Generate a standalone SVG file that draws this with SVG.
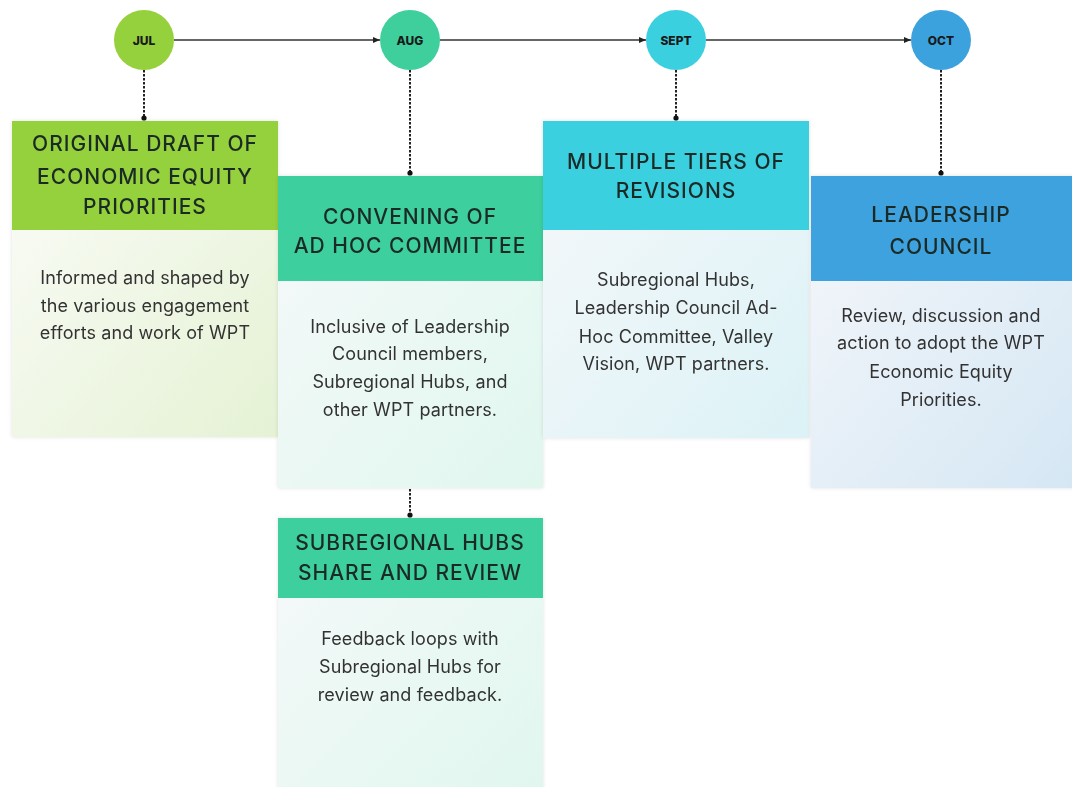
<svg xmlns="http://www.w3.org/2000/svg" width="1072" height="787" viewBox="0 0 1072 787">
<defs>
<linearGradient id="g1" x1="0" y1="0" x2="1" y2="1"><stop offset="0" stop-color="#fbfcf9"/><stop offset="1" stop-color="#e5f2d4"/></linearGradient>
<linearGradient id="g2" x1="0" y1="0" x2="1" y2="1"><stop offset="0" stop-color="#f6f9fa"/><stop offset="1" stop-color="#e0f7ee"/></linearGradient>
<linearGradient id="g4" x1="0" y1="0" x2="1" y2="1"><stop offset="0" stop-color="#f6f8fa"/><stop offset="1" stop-color="#dcf2f6"/></linearGradient>
<linearGradient id="g5" x1="0" y1="0" x2="1" y2="1"><stop offset="0" stop-color="#f5f7fa"/><stop offset="1" stop-color="#d5e7f4"/></linearGradient>
<filter id="sh" x="-5%" y="-5%" width="110%" height="110%"><feGaussianBlur in="SourceAlpha" stdDeviation="2"/><feComponentTransfer><feFuncA type="linear" slope="0.12"/></feComponentTransfer><feMerge><feMergeNode/><feMergeNode in="SourceGraphic"/></feMerge></filter>
<marker id="arr" markerWidth="8" markerHeight="8" refX="7" refY="4" orient="auto" markerUnits="userSpaceOnUse"><path d="M0,1 L7,4 L0,7 Z" fill="#222"/></marker>
<marker id="dot" markerWidth="6" markerHeight="6" refX="3" refY="3" markerUnits="userSpaceOnUse"><circle cx="3" cy="3" r="2.6" fill="#111"/></marker>
</defs>
<style>
.hd{font-family:Inter,"Noto Sans",sans-serif;font-size:21px;font-weight:500;fill:#1d2a28;text-anchor:middle;letter-spacing:1px}
.bd{font-family:Inter,"Noto Sans",sans-serif;font-size:18px;fill:#333;text-anchor:middle;letter-spacing:0.1px}
.mo{font-family:Inter,"Noto Sans",sans-serif;font-size:12px;font-weight:800;fill:#1a1a1a;text-anchor:middle}
.tl{stroke:#333;stroke-width:1.6;fill:none;marker-end:url(#arr)}
.dl{stroke:#222;stroke-width:2;stroke-dasharray:2.5 1.5;fill:none;marker-end:url(#dot)}
</style>
<rect width="1072" height="787" fill="#ffffff"/>
<g id="connectors">
<path class="tl" d="M174,40 H380"/>
<path class="tl" d="M440,40 H646"/>
<path class="tl" d="M706,40 H911"/>
<path class="dl" d="M144,70 V118"/>
<path class="dl" d="M410,70 V173"/>
<path class="dl" d="M676,70 V118"/>
<path class="dl" d="M941,70 V173"/>
<path class="dl" d="M410,489 V515"/>
</g>
<g id="jul"><circle cx="144" cy="40" r="30" fill="#95d13c"/><text class="mo" x="144" y="44.5">JUL</text></g>
<g id="aug"><circle cx="410" cy="40" r="30" fill="#3ecf9d"/><text class="mo" x="410" y="44.5">AUG</text></g>
<g id="sept"><circle cx="676" cy="40" r="30" fill="#3bd0e0"/><text class="mo" x="676" y="44.5">SEPT</text></g>
<g id="oct"><circle cx="941" cy="40" r="30" fill="#3ca2de"/><text class="mo" x="941" y="44.5">OCT</text></g>
<g id="box-draft" filter="url(#sh)">
<rect x="12" y="121" width="266" height="316" fill="url(#g1)"/>
<rect x="12" y="121" width="266" height="109" fill="#95d13c"/>
<text class="hd" x="145" y="151">ORIGINAL DRAFT OF</text>
<text class="hd" x="145" y="184">ECONOMIC EQUITY</text>
<text class="hd" x="145" y="214">PRIORITIES</text>
<text class="bd" x="145" y="284">Informed and shaped by</text>
<text class="bd" x="145" y="312">the various engagement</text>
<text class="bd" x="145" y="339">efforts and work of WPT</text>
</g>
<g id="box-convening" filter="url(#sh)">
<rect x="278" y="176" width="265" height="312" fill="url(#g2)"/>
<rect x="278" y="176" width="265" height="105" fill="#3ecf9d"/>
<text class="hd" x="410" y="224">CONVENING OF</text>
<text class="hd" x="410" y="253">AD HOC COMMITTEE</text>
<text class="bd" x="410" y="333">Inclusive of Leadership</text>
<text class="bd" x="410" y="360">Council members,</text>
<text class="bd" x="410" y="388">Subregional Hubs, and</text>
<text class="bd" x="410" y="416">other WPT partners.</text>
</g>
<g id="box-subregional" filter="url(#sh)">
<rect x="278" y="518" width="265" height="272" fill="url(#g2)"/>
<rect x="278" y="518" width="265" height="80" fill="#3ecf9d"/>
<text class="hd" x="410" y="550">SUBREGIONAL HUBS</text>
<text class="hd" x="410" y="580">SHARE AND REVIEW</text>
<text class="bd" x="410" y="645">Feedback loops with</text>
<text class="bd" x="410" y="673">Subregional Hubs for</text>
<text class="bd" x="410" y="701">review and feedback.</text>
</g>
<g id="box-tiers" filter="url(#sh)">
<rect x="543" y="121" width="266" height="317" fill="url(#g4)"/>
<rect x="543" y="121" width="266" height="109" fill="#3bd0e0"/>
<text class="hd" x="676" y="169">MULTIPLE TIERS OF</text>
<text class="hd" x="676" y="198">REVISIONS</text>
<text class="bd" x="676" y="286">Subregional Hubs,</text>
<text class="bd" x="676" y="314">Leadership Council Ad-</text>
<text class="bd" x="676" y="343">Hoc Committee, Valley</text>
<text class="bd" x="676" y="370">Vision, WPT partners.</text>
</g>
<g id="box-leadership" filter="url(#sh)">
<rect x="811" y="176" width="265" height="312" fill="url(#g5)"/>
<rect x="811" y="176" width="265" height="105" fill="#3ca2de"/>
<text class="hd" x="941" y="222">LEADERSHIP</text>
<text class="hd" x="941" y="254">COUNCIL</text>
<text class="bd" x="941" y="322">Review, discussion and</text>
<text class="bd" x="941" y="349">action to adopt the WPT</text>
<text class="bd" x="941" y="378">Economic Equity</text>
<text class="bd" x="941" y="406">Priorities.</text>
</g>
</svg>
